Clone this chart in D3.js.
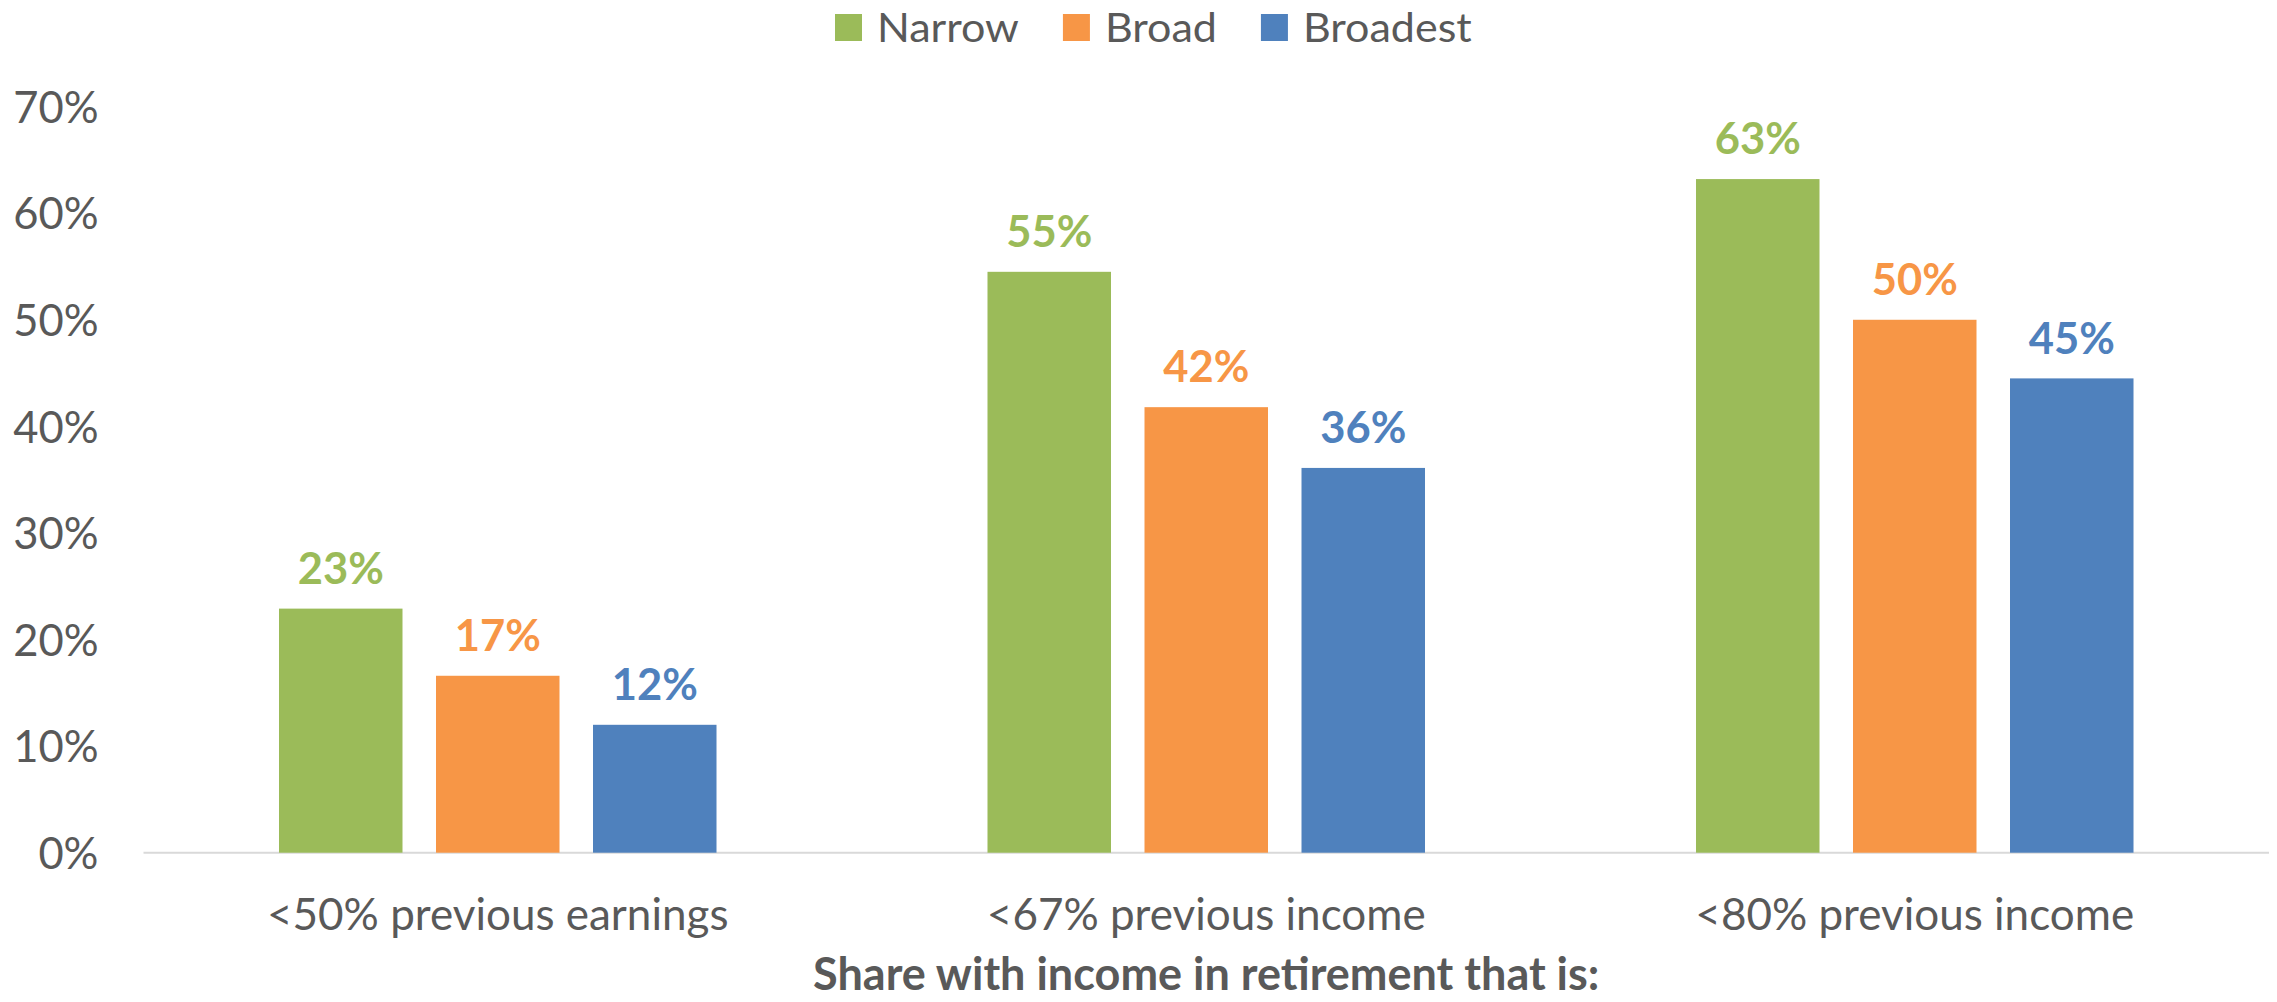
<!DOCTYPE html>
<html>
<head>
<meta charset="utf-8">
<script src="https://cdn.jsdelivr.net/npm/d3@7"></script>
<style>
  html, body { margin: 0; padding: 0; background: #ffffff; }
  svg { display: block; font-family: Lato, "Open Sans", sans-serif; }
</style>
</head>
<body>
<svg id="chart" width="2277" height="1002"></svg>
<script>
// Groups along the x axis
const categories = ["<50% previous earnings", "<67% previous income", "<80% previous income"];
// One array per measure, in category order
const series = ["Narrow", "Broad", "Broadest"];
const narrowValues = [0.229, 0.545, 0.632];
const broadValues = [0.166, 0.418, 0.500];
const broadestValues = [0.120, 0.361, 0.445];
const yTickValues = [0, 0.1, 0.2, 0.3, 0.4, 0.5, 0.6, 0.7];
const axisTitle = "Share with income in retirement that is:";

const valuesBySeries = {
  "Narrow": narrowValues,
  "Broad": broadValues,
  "Broadest": broadestValues
};
const colors = d3.scaleOrdinal()
  .domain(series)
  .range(["#9BBB59", "#F79646", "#4F81BD"]);

const textColor = "#595959";
const svg = d3.select("#chart");

const plot = { left: 143.5, right: 2269, top: 106.6, bottom: 852.7 };

const x0 = d3.scaleBand()
  .domain(categories)
  .range([plot.left, plot.right])
  .paddingInner(0)
  .paddingOuter(0);

const x1 = d3.scaleBand()
  .domain(series)
  .range([0, x0.bandwidth()])
  .paddingInner(0.2134)
  .paddingOuter(0.863);

const y = d3.scaleLinear()
  .domain([0, 0.7])
  .range([plot.bottom, plot.top]);

const pct = d3.format(".0%");

// Y axis: labels only, no line or ticks
const yAxis = svg.append("g")
  .attr("transform", `translate(${plot.left - 45},0)`)
  .call(d3.axisLeft(y).tickValues(yTickValues).tickFormat(pct).tickSize(0).tickPadding(0));
yAxis.select(".domain").remove();
yAxis.selectAll("text")
  .attr("fill", textColor)
  .attr("font-family", "Lato, sans-serif")
  .attr("font-size", 43.5)
  .attr("dy", "0.36em");

// Baseline
svg.append("line")
  .attr("x1", plot.left).attr("x2", plot.right)
  .attr("y1", y(0)).attr("y2", y(0))
  .attr("stroke", "#d9d9d9")
  .attr("stroke-width", 2);

// X axis category labels
const xAxis = svg.append("g")
  .attr("transform", `translate(0,${y(0)})`)
  .call(d3.axisBottom(x0).tickSize(0).tickPadding(0));
xAxis.select(".domain").remove();
xAxis.selectAll("text")
  .attr("fill", textColor)
  .attr("font-family", "Lato, sans-serif")
  .attr("font-size", 44)
  .attr("dy", null)
  .attr("y", 77);

// Bars and value labels
const rows = categories.map((c, i) => ({
  category: c,
  items: series.map(s => ({ series: s, value: valuesBySeries[s][i] }))
}));

const groups = svg.append("g").selectAll("g")
  .data(rows)
  .join("g")
  .attr("transform", d => `translate(${x0(d.category)},0)`);

groups.selectAll("rect")
  .data(d => d.items)
  .join("rect")
  .attr("x", d => x1(d.series))
  .attr("width", x1.bandwidth())
  .attr("y", d => y(d.value))
  .attr("height", d => y(0) - y(d.value))
  .attr("fill", d => colors(d.series));

groups.selectAll("text.value")
  .data(d => d.items)
  .join("text")
  .attr("class", "value")
  .attr("x", d => x1(d.series) + x1.bandwidth() / 2)
  .attr("y", d => y(d.value) - 24.7)
  .attr("text-anchor", "middle")
  .attr("font-family", "Lato, sans-serif")
  .attr("font-weight", 700)
  .attr("font-size", 43.5)
  .attr("fill", d => colors(d.series))
  .text(d => pct(d.value));

// Axis title
svg.append("text")
  .attr("x", (plot.left + plot.right) / 2)
  .attr("y", 990)
  .attr("text-anchor", "middle")
  .attr("font-family", "Lato, sans-serif")
  .attr("font-weight", 700)
  .attr("font-size", 45)
  .attr("fill", textColor)
  .text(axisTitle);

// Legend across the top (labels slightly widened horizontally)
const legendStretch = 1.05;
const legend = svg.append("g").attr("transform", "translate(835,14)");
let lx = 0;
series.forEach(s => {
  const item = legend.append("g").attr("transform", `translate(${lx},0)`);
  item.append("rect")
    .attr("width", 27).attr("height", 27)
    .attr("fill", colors(s));
  const t = item.append("text")
    .attr("transform", `translate(42,28) scale(${legendStretch},1)`)
    .attr("font-family", "Lato, sans-serif")
    .attr("font-size", 41)
    .attr("fill", textColor)
    .text(s);
  lx += 42 + legendStretch * t.node().getComputedTextLength() + 44;
});
</script>
</body>
</html>
